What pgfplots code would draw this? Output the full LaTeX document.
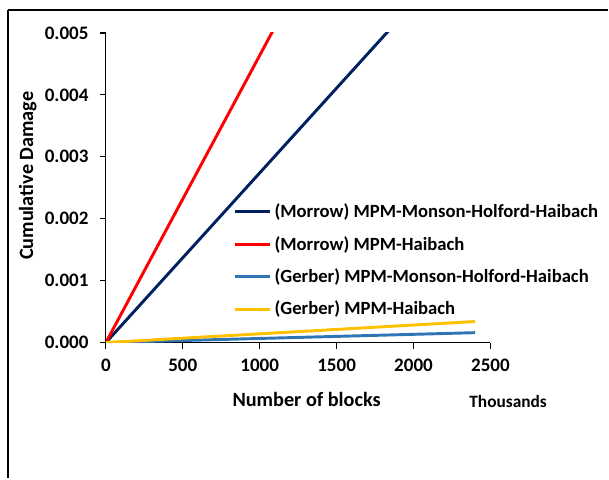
\documentclass[border=0pt]{standalone}
\usepackage{fontspec}
\setmainfont{Carlito}
\usepackage{pgfplots}
\pgfplotsset{compat=1.18}
\definecolor{navyline}{HTML}{002060}
\definecolor{redline}{HTML}{FF0000}
\definecolor{blueline}{HTML}{2E75B6}
\definecolor{goldline}{HTML}{FFC000}
\begin{document}
\begin{tikzpicture}[x=0.75pt,y=0.75pt]
% page size and outer frame (pixel units, origin = axis origin)
\path (-106,-136) rectangle (503,343);
\draw[line width=1.1pt] (-98,333) -- (503,333);
\draw[line width=1.1pt] (-98,333) -- (-98,-136);
\draw[line width=2.2pt] (-98,-85) -- (-98,-136);
\begin{axis}[
  at={(0,0)}, anchor=origin,
  scale only axis,
  width=288.75pt, height=232.5pt,
  xmin=0, xmax=2500, ymin=0, ymax=0.005,
  axis lines*=left,
  axis line style={line width=0.9pt,-},
  tick style={line width=0.9pt,black},
  tick align=outside,
  major tick length=4.5pt,
  xtick={0,500,...,2500},
  ytick={0,0.001,...,0.005},
  scaled y ticks=false,
  /pgf/number format/assume math mode=true,
  x tick label style={font=\fontsize{14.3}{16}\selectfont\bfseries,/pgf/number format/1000 sep={}},
  y tick label style={font=\fontsize{14.3}{16}\selectfont\bfseries,/pgf/number format/.cd,fixed,fixed zerofill,precision=3},
  xticklabel shift=4pt,
  yticklabel shift=5pt,
  xlabel={Number of blocks},
  ylabel={Cumulative Damage},
  label style={font=\fontsize{15.2}{18}\selectfont\bfseries},
  xlabel style={at={(axis description cs:0.522,-0.184)},anchor=center},
  ylabel style={at={(axis description cs:-0.203,0.539)},anchor=center,rotate=0},
  clip mode=individual,
  legend cell align=left,
  legend style={draw=none,fill=none,at={(axis description cs:0.33,0.458)},anchor=north west,
    font=\fontsize{14}{16}\selectfont\bfseries,row sep=8.5pt,inner sep=0pt},
  legend image code/.code={\draw[#1] (0pt,0pt) -- (27pt,0pt);},
]
\addplot[navyline,line width=2.2pt] coordinates {(0,0) (2400,0.006575)};
\addlegendentry{(Morrow) MPM-Monson-Holford-Haibach}
\addplot[redline,line width=2.2pt] coordinates {(0,0) (2400,0.01113)};
\addlegendentry{(Morrow) MPM-Haibach}
\addplot[blueline,line width=2.2pt] coordinates {(0,0) (2400,0.00016)};
\addlegendentry{(Gerber) MPM-Monson-Holford-Haibach}
\addplot[goldline,line width=2.2pt] coordinates {(0,0) (2400,0.00034)};
\addlegendentry{(Gerber) MPM-Haibach}
\node[font=\fontsize{13}{15}\selectfont\bfseries] at (axis description cs:1.046,-0.191) {Thousands};
\end{axis}
\end{tikzpicture}
\end{document}
